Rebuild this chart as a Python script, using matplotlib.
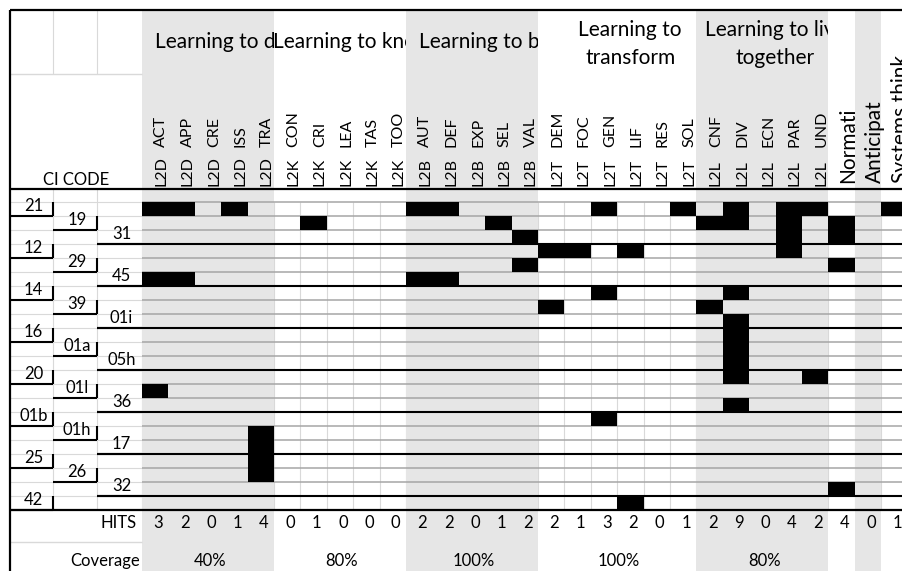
import matplotlib
matplotlib.use("Agg")
import matplotlib.pyplot as plt
from matplotlib.patches import Rectangle
from matplotlib.transforms import Bbox

plt.rcParams['font.family'] = ['Lato', 'DejaVu Sans']

# ---- data read from the sheet ----
ci_codes = ["21", "19", "31", "12", "29", "45", "14", "39", "01i", "16", "01a",
            "05h", "20", "01l", "36", "01b", "01h", "17", "25", "26", "32", "42"]

group_names = ["Learning to do", "Learning to know", "Learning to be",
               "Learning to\ntransform", "Learning to live\ntogether"]
group_prefix = ["L2D", "L2K", "L2B", "L2T", "L2L"]
l2d_codes = ["ACT", "APP", "CRE", "ISS", "TRA"]
l2k_codes = ["CON", "CRI", "LEA", "TAS", "TOO"]
l2b_codes = ["AUT", "DEF", "EXP", "SEL", "VAL"]
l2t_codes = ["DEM", "FOC", "GEN", "LIF", "RES", "SOL"]
l2l_codes = ["CNF", "DIV", "ECN", "PAR", "UND"]
group_codes = [l2d_codes, l2k_codes, l2b_codes, l2t_codes, l2l_codes]
coverage = ["40%", "80%", "100%", "100%", "80%"]

extra_keys = ["Normative", "Anticipatory", "Systems thinking"]
extra_labels = ["Normati", "Anticipat", "Systems think"]

# hits per CI code row (same order as ci_codes)
row_hits = [
    ["L2D ACT", "L2D APP", "L2D ISS", "L2B AUT", "L2B DEF", "L2T GEN", "L2T SOL",
     "L2L DIV", "L2L PAR", "L2L UND", "Systems thinking"],
    ["L2K CRI", "L2B SEL", "L2L CNF", "L2L DIV", "L2L PAR", "Normative"],
    ["L2B VAL", "L2L PAR", "Normative"],
    ["L2T DEM", "L2T FOC", "L2T LIF", "L2L PAR"],
    ["L2B VAL", "Normative"],
    ["L2D ACT", "L2D APP", "L2B AUT", "L2B DEF"],
    ["L2T GEN", "L2L DIV"],
    ["L2T DEM", "L2L CNF"],
    ["L2L DIV"],
    ["L2L DIV"],
    ["L2L DIV"],
    ["L2L DIV"],
    ["L2L DIV", "L2L UND"],
    ["L2D ACT"],
    ["L2L DIV"],
    ["L2T GEN"],
    ["L2D TRA"],
    ["L2D TRA"],
    ["L2D TRA"],
    ["L2D TRA"],
    ["Normative"],
    ["L2T LIF"],
]

# ---- layout (pixels) ----
W, H = 902, 571
LEFT, TOP = 10, 10
LBL_X = [10, 53, 97, 142]
X0, CW = 142, 26.4
HDR_MID, HDR_BOT = 74, 189
Y0, RH = 202, 14

SHADE = '#e6e6e6'
GRID = '#a6a6a6'
LIGHT = '#d9d9d9'

columns = []
spans = []
for p, codes in zip(group_prefix, group_codes):
    spans.append((len(columns), len(codes)))
    columns += [f"{p} {c}" for c in codes]
extra_start = len(columns)
columns += extra_keys
ncol = len(columns)
nrow = len(ci_codes)
Y1 = Y0 + RH * nrow

hits = [sum(col in r for r in row_hits) for col in columns]


def col_left(j):
    return X0 + CW * j


fig = plt.figure(figsize=(W / 100, H / 100), dpi=100)
ax = fig.add_axes([0, 0, 1, 1])
ax.set_xlim(0, W)
ax.set_ylim(H, 0)
ax.axis('off')


def clip_box(x0, y0, x1, y1):
    # display-space box (y axis is inverted, so sort the corners)
    pts = ax.transData.transform([(x0, y0), (x1, y1)])
    return Bbox.from_extents(min(pts[:, 0]), min(pts[:, 1]), max(pts[:, 0]), max(pts[:, 1]))


# vertical light grid in the data block
shaded = [spans[0], spans[2], spans[4], (extra_start + 1, 1)]
for j in range(ncol + 1):
    ax.vlines(col_left(j), Y0, Y1, color=LIGHT, lw=0.8, zorder=0.5)

# shaded column groups
for s, n in shaded:
    ax.add_patch(Rectangle((col_left(s), TOP), CW * n, H - TOP, color=SHADE, lw=0, zorder=1))

# label block light lines
for k in range(nrow):
    ax.hlines(Y0 + RH * k, LBL_X[0], LBL_X[3], color=LIGHT, lw=0.8, zorder=1.5)
ax.hlines([HDR_MID, 542], LBL_X[0], LBL_X[3], color=LIGHT, lw=1.0, zorder=1.5)
for x in LBL_X[1:3]:
    ax.vlines(x, TOP, HDR_MID, color=LIGHT, lw=0.8, zorder=1.5)
    ax.vlines(x, HDR_BOT, Y1, color=LIGHT, lw=0.8, zorder=1.5)

# row lines in the data block
for k in range(nrow + 1):
    ax.hlines(Y0 + RH * k, X0, W, color=GRID, lw=1.1, zorder=2)

# hit cells
bx, by = [], []
for r, row in enumerate(row_hits):
    for key in row:
        j = columns.index(key)
        bx.append(col_left(j) + CW / 2)
        by.append(Y0 + RH * r)
ax.bar(bx, RH, width=CW, bottom=by, color='black', lw=0, zorder=3)

# black borders
for k in range(3, nrow, 3):
    ax.hlines(Y0 + RH * k, LBL_X[2], W, color='black', lw=1.5, zorder=4)
ax.hlines([TOP, HDR_BOT, Y1], LEFT, W, color='black', lw=1.6, zorder=4)
ax.vlines(LEFT, TOP, H, color='black', lw=1.6, zorder=4)
for r in range(nrow):
    c = r % 3
    yb = Y0 + RH * (r + 1)
    ax.hlines(yb, LBL_X[c], LBL_X[c + 1], color='black', lw=1.5, zorder=4)
    if c < 2:
        ax.vlines(LBL_X[c + 1], yb - RH, yb, color='black', lw=1.5, zorder=4)

# ---- texts ----
for g, (s, n) in enumerate(spans):
    box = clip_box(col_left(s), TOP, col_left(s + n), HDR_MID)
    lines = group_names[g].split("\n")
    bases = [48] if len(lines) == 1 else [36, 64]
    for line, yb in zip(lines, bases):
        t = ax.text(col_left(s) + CW * n / 2 + 13, yb, line, ha='center', va='baseline',
                    fontsize=15, zorder=5)
        t.set_clip_box(box)
        t.set_clip_on(True)

for g, (s, n) in enumerate(spans):
    for i, code in enumerate(group_codes[g]):
        xa = col_left(s + i) + CW - 3
        ax.text(xa, 186, group_prefix[g], rotation=90, rotation_mode='anchor',
                ha='left', va='baseline', fontsize=11.5, zorder=5)
        ax.text(xa, 147, code, rotation=90, rotation_mode='anchor',
                ha='left', va='baseline', fontsize=11.5, zorder=5)

for i, lab in enumerate(extra_labels):
    xa = col_left(extra_start + i) + CW - 0.5
    ax.text(xa, 183, lab, rotation=90, rotation_mode='anchor',
            ha='left', va='baseline', fontsize=15, zorder=5)

ax.text(76, 185, "CI CODE", ha='center', va='baseline', fontsize=12, zorder=5)

for r, code in enumerate(ci_codes):
    c = r % 3
    ax.text((LBL_X[c] + LBL_X[c + 1]) / 2 + 2, Y0 + RH * (r + 1) - 5, code,
            ha='center', va='baseline', fontsize=12, zorder=5)

ax.text(137, 528, "HITS", ha='right', va='baseline', fontsize=12, zorder=5)
for j, v in enumerate(hits):
    ax.text(col_left(j) + CW / 2 + 3, 528, str(v), ha='center', va='baseline',
            fontsize=12, zorder=5)

ax.text(105, 566, "Coverage", ha='center', va='baseline', fontsize=12, zorder=5)
for g, (s, n) in enumerate(spans):
    ax.text(col_left(s) + CW * n / 2 + 2, 566, coverage[g], ha='center', va='baseline',
            fontsize=12, zorder=5)

fig.savefig("out.png", dpi=100)
